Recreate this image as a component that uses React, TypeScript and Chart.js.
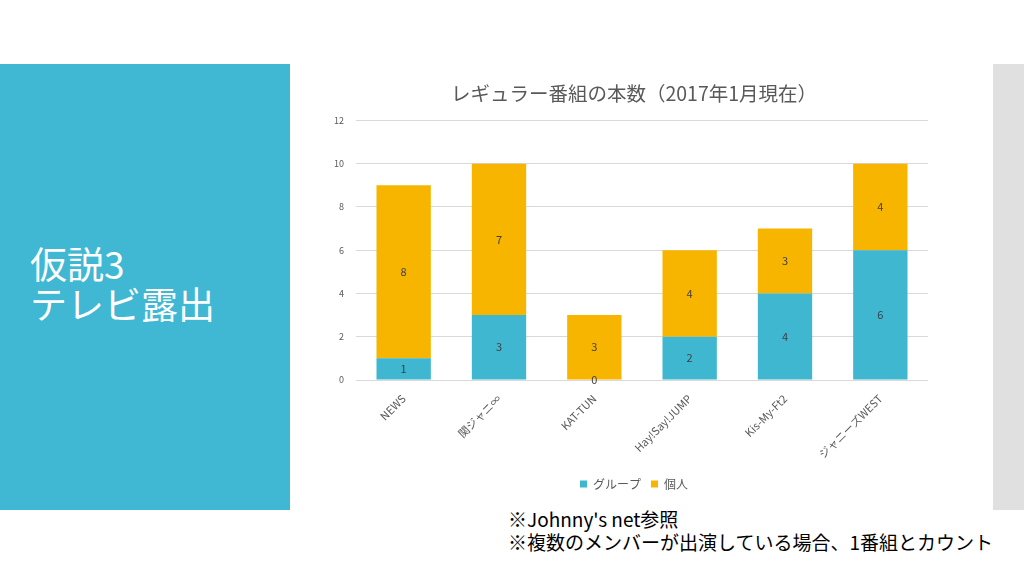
import React, { useEffect, useRef } from "react";
import { Chart, registerables } from "chart.js";

Chart.register(...registerables);

const categories = ["NEWS", "関ジャニ∞", "KAT-TUN", "Hay!Say!JUMP", "Kis-My-Ft2", "ジャニーズWEST"];
const groupValues = [1, 3, 0, 2, 4, 6];
const soloValues = [8, 7, 3, 4, 3, 4];
const seriesNames = ["グループ", "個人"];
const chartTitle = "レギュラー番組の本数（2017年1月現在）";

const TEAL = "#3FB7D1";
const ORANGE = "#F8B500";
const FONT = "'Noto Sans CJK JP', 'Noto Sans', sans-serif";

const labelPlugin = {
  id: "segLabels",
  beforeDraw(chart: any) {
    // let the y tick labels extend left of the narrow axis box without being clipped
    const y = chart.scales.y;
    if (y) y._computeLabelArea = () => undefined;
  },
  afterDatasetsDraw(chart: any) {
    const ctx = chart.ctx;
    ctx.save();
    ctx.fillStyle = "#404040";
    ctx.font = `11px ${FONT}`;
    ctx.textAlign = "center";
    ctx.textBaseline = "middle";
    chart.data.datasets.forEach((ds: any, di: number) => {
      const meta = chart.getDatasetMeta(di);
      meta.data.forEach((bar: any, i: number) => {
        const v = ds.data[i];
        const y = (bar.y + bar.base) / 2;
        ctx.fillText(String(v), bar.x, y);
      });
    });
    ctx.restore();
  },
};

export default function App() {
  const ref = useRef<HTMLCanvasElement>(null);
  useEffect(() => {
    if (!ref.current) return;
    const chart = new Chart(ref.current, {
      type: "bar",
      data: {
        labels: categories,
        datasets: [
          { label: seriesNames[0], data: groupValues, backgroundColor: TEAL, categoryPercentage: 0.57, barPercentage: 1 },
          { label: seriesNames[1], data: soloValues, backgroundColor: ORANGE, categoryPercentage: 0.57, barPercentage: 1 },
        ],
      },
      options: {
        animation: false,
        responsive: false,
        maintainAspectRatio: false,
        layout: { padding: { left: 29, right: 73, top: 0, bottom: 0 } },
        plugins: {
          title: {
            display: true,
            text: chartTitle,
            color: "#595959",
            font: { family: FONT, size: 19.5, weight: "normal" },
            padding: { top: 12, bottom: 15 },
          },
          legend: {
            position: "bottom",
            labels: {
              color: "#595959",
              font: { family: FONT, size: 12 },
              boxWidth: 7,
              boxHeight: 7,
              padding: 10,
            },
          },
          tooltip: { enabled: false },
        },
        scales: {
          x: {
            stacked: true,
            grid: { display: false },
            border: { display: false },
            ticks: {
              color: "#595959",
              font: { family: FONT, size: 11 },
              minRotation: 45,
              maxRotation: 45,
              padding: 4,
            },
            afterFit: (s: any) => { s.height = 88; },
          },
          y: {
            stacked: true,
            min: 0,
            max: 12,
            grid: { color: "#D9D9D9", drawTicks: false },
            border: { display: false },
            ticks: {
              stepSize: 2,
              color: "#595959",
              font: { family: FONT, size: 9 },
              padding: 12,
            },
            afterFit: (s: any) => { s.width = 16; },
          },
        },
      },
      plugins: [labelPlugin],
    });
    return () => chart.destroy();
  }, []);

  return (
    <div style={{ position: "fixed", left: 0, top: 0, width: 1024, height: 576, background: "#fff", overflow: "hidden" }}>
      <div style={{ position: "absolute", left: 0, top: 64, width: 290, height: 446, background: "#40B8D3" }} />
      <div
        style={{
          position: "absolute",
          left: 30,
          top: 243,
          color: "#fff",
          fontFamily: FONT,
          fontSize: 37,
          lineHeight: "40px",
          whiteSpace: "nowrap",
        }}
      >
        仮説3
        <br />
        テレビ露出
      </div>
      <div style={{ position: "absolute", left: 993, top: 64, width: 31, height: 446, background: "#E0E0E0" }} />
      <canvas ref={ref} width={690} height={430} style={{ position: "absolute", left: 311, top: 70, width: 690, height: 430 }} />
      <div
        style={{
          position: "absolute",
          left: 508,
          top: 507,
          color: "#000",
          fontFamily: FONT,
          fontSize: 19,
          lineHeight: "23px",
          whiteSpace: "nowrap",
        }}
      >
        ※Johnny's net参照
        <br />
        ※複数のメンバーが出演している場合、1番組とカウント
      </div>
    </div>
  );
}
